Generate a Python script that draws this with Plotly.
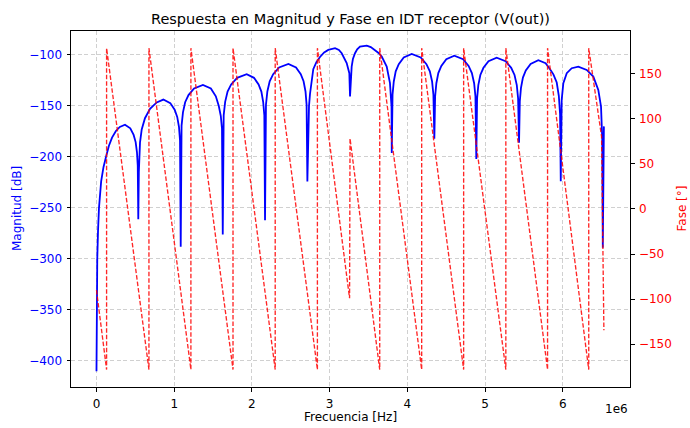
import plotly.graph_objects as go

# ---- data (frequency in MHz, scaled to Hz below) ----
freq_mhz = [
    0.000, 0.003, 0.010, 0.020, 0.032, 0.060, 0.090, 0.122, 0.160, 0.200, 0.250, 0.300, 0.367,
    0.435, 0.478, 0.504, 0.521, 0.531, 0.538,
    0.545, 0.551, 0.560, 0.582, 0.624, 0.689, 0.775, 0.860, 0.950, 1.006, 1.039, 1.062, 1.075, 1.084,
    1.095, 1.113, 1.141, 1.184, 1.256, 1.370, 1.472, 1.536, 1.574, 1.600, 1.615, 1.625,
    1.637, 1.656, 1.687, 1.733, 1.810, 1.933, 2.027, 2.086, 2.122, 2.145, 2.160, 2.169,
    2.181, 2.199, 2.229, 2.274, 2.350, 2.470, 2.568, 2.629, 2.665, 2.690, 2.704, 2.714,
    2.722, 2.735, 2.748, 2.770, 2.790, 2.830, 2.876, 2.930, 2.983, 3.070, 3.120, 3.156, 3.220, 3.254, 3.263,
    3.284, 3.300, 3.327, 3.355, 3.391, 3.478, 3.530, 3.585, 3.630, 3.671, 3.735, 3.777, 3.797, 3.800,
    3.810, 3.826, 3.851, 3.890, 3.954, 4.057, 4.173, 4.246, 4.290, 4.319, 4.336, 4.348,
    4.358, 4.374, 4.399, 4.438, 4.502, 4.605, 4.718, 4.789, 4.831, 4.860, 4.877, 4.888,
    4.898, 4.914, 4.940, 4.980, 5.045, 5.150, 5.265, 5.337, 5.380, 5.409, 5.426, 5.438,
    5.448, 5.463, 5.488, 5.525, 5.587, 5.686, 5.780, 5.837, 5.880, 5.923, 5.950, 5.966, 5.975,
    5.987, 6.008, 6.052, 6.116, 6.201, 6.309, 6.394, 6.458, 6.493, 6.509, 6.516, 6.530,
]
mag_db = [
    -410, -350, -300, -272, -250, -224, -210, -200, -189, -181, -174.5, -170.5, -168.4,
    -171.9, -178.4, -185.4, -195.4, -208.4, -261,
    -215, -195, -186, -173, -162, -152.7, -146.5, -143.7, -147.2, -153.7, -160.7, -170.7, -183.7, -288,
    -169.3, -156.3, -146.3, -139.3, -132.8, -129.3, -132.8, -140.5, -150, -160, -172, -276,
    -158.9, -145.9, -135.9, -128.9, -122.4, -118.9, -122.4, -128.9, -135.9, -145.9, -158.9, -262,
    -148.8, -135.8, -125.8, -118.8, -112.3, -108.8, -112.3, -118.8, -125.8, -135.8, -148.8, -224,
    -175, -150, -138, -122, -114, -107, -102, -97.5, -95, -93.4, -95, -98.3, -108, -117.9, -140.7,
    -111.4, -104, -98.3, -94.5, -91.9, -90.9, -92.3, -95.1, -98, -101.6, -111.4, -127.6, -150.5, -196,
    -139, -126, -116, -109, -102.5, -99, -102.5, -109, -116, -126, -139, -182,
    -140.7, -127.7, -117.7, -110.7, -104.2, -100.7, -104.2, -110.7, -117.7, -127.7, -140.7, -202,
    -142.6, -129.6, -119.6, -112.6, -106.1, -102.6, -106.1, -112.6, -119.6, -129.6, -142.6, -186,
    -145.2, -132.2, -122.2, -115.2, -108.7, -105.2, -108, -114, -119, -127, -140, -158, -223.7,
    -144, -127.6, -117.9, -113, -111.4, -114.7, -121.2, -134.2, -150.5, -183, -289, -170,
]

phase_freq_mhz = [
    0.000, 0.130, 0.130, 0.675, 0.675, 1.215, 1.215, 1.757, 1.757, 2.300, 2.300, 2.843,
    2.843, 3.257, 3.263, 3.645, 3.645, 4.185, 4.185, 4.725, 4.725, 5.268, 5.268, 5.805,
    5.805, 6.335, 6.335, 6.500, 6.530,
]
phase_deg = [
    -90, -178, 178, -178, 178, -178, 178, -178, 178, -178, 178, -178,
    178, -99, 78, -178, 178, -178, 178, -178, 178, -178, 178, -178,
    178, -178, 178, 80, -134.5,
]

x_tick_vals = [0, 1e6, 2e6, 3e6, 4e6, 5e6, 6e6]
x_tick_text = ["0", "1", "2", "3", "4", "5", "6"]
mag_tick_vals = [-400, -350, -300, -250, -200, -150, -100]
mag_tick_text = ["\u2212400", "\u2212350", "\u2212300", "\u2212250", "\u2212200", "\u2212150", "\u2212100"]
phase_tick_vals = [-150, -100, -50, 0, 50, 100, 150]
phase_tick_text = ["\u2212150", "\u2212100", "\u221250", "0", "50", "100", "150"]

f_hz = [f * 1e6 for f in freq_mhz]
phase_f_hz = [f * 1e6 for f in phase_freq_mhz]

# ---- layout geometry (pixels) ----
W, H = 690, 428
L, R, T, B = 71, 630, 31, 387
FONT = "DejaVu Sans"

fig = go.Figure()
fig.add_trace(go.Scatter(
    x=f_hz, y=mag_db, mode="lines", yaxis="y",
    line=dict(color="#0000ff", width=1.8), showlegend=False, hoverinfo="skip",
))
fig.add_trace(go.Scatter(
    x=phase_f_hz, y=phase_deg, mode="lines", yaxis="y2",
    line=dict(color="rgba(255,0,0,0.85)", width=1.35, dash="4.5px,2px"),
    showlegend=False, hoverinfo="skip",
))

def px_x(p):
    return (p - L) / (R - L)

def px_y(p):
    return (B - p) / (B - T)

grid = dict(showgrid=True, gridcolor="#d0d0d0", gridwidth=0.8, griddash="4px,2.5px")

fig.update_layout(
    width=W, height=H,
    margin=dict(l=L, r=W - R, t=T, b=H - B, pad=0),
    paper_bgcolor="white", plot_bgcolor="white",
    font=dict(family=FONT, size=12, color="black"),
    title=dict(
        text="Respuesta en Magnitud y Fase en IDT receptor (V(out))",
        font=dict(family=FONT, size=14.5, color="black"),
        x=px_x((L + R) / 2), xref="paper", xanchor="center",
        y=1 - 18.5 / H, yref="container", yanchor="middle",
    ),
    xaxis=dict(
        range=[-0.328e6, 6.866e6], tickmode="array",
        tickvals=x_tick_vals, ticktext=x_tick_text,
        ticks="outside", ticklen=3.5, tickwidth=1, tickcolor="black",
        ticklabelstandoff=2,
        showline=True, linecolor="black", linewidth=1, mirror=True,
        zeroline=False, tickfont=dict(family=FONT, size=12, color="black"),
        **grid,
    ),
    yaxis=dict(
        range=[-425.5, -76.5], tickmode="array",
        tickvals=mag_tick_vals, ticktext=mag_tick_text,
        ticks="outside", ticklen=3.5, tickwidth=1, tickcolor="black",
        ticklabelstandoff=2,
        showline=True, linecolor="black", linewidth=1,
        zeroline=False, tickfont=dict(family=FONT, size=12, color="#0000ff"),
        **grid,
    ),
    yaxis2=dict(
        range=[-197.3, 197.0], tickmode="array",
        tickvals=phase_tick_vals, ticktext=phase_tick_text,
        overlaying="y", side="right",
        ticks="outside", ticklen=3.5, tickwidth=1, tickcolor="black",
        ticklabelstandoff=2,
        showline=True, linecolor="black", linewidth=1,
        showgrid=False, zeroline=False,
        tickfont=dict(family=FONT, size=12, color="#ff0000"),
    ),
    annotations=[
        dict(text="Frecuencia [Hz]", xref="paper", yref="paper",
             x=px_x((L + R) / 2), y=px_y(417), xanchor="center", yanchor="middle",
             showarrow=False, font=dict(family=FONT, size=12, color="black")),
        dict(text="Magnitud [dB]", xref="paper", yref="paper",
             x=px_x(17), y=0.5, xanchor="center", yanchor="middle", textangle=-90,
             showarrow=False, font=dict(family=FONT, size=12, color="#0000ff")),
        dict(text="Fase [°]", xref="paper", yref="paper",
             x=px_x(681.5), y=0.5, xanchor="center", yanchor="middle", textangle=-90,
             showarrow=False, font=dict(family=FONT, size=12, color="#ff0000")),
        dict(text="1e6", xref="paper", yref="paper",
             x=1.0, y=px_y(409), xanchor="right", yanchor="middle",
             showarrow=False, font=dict(family=FONT, size=12, color="black")),
    ],
)

fig.write_html(
    "out.html",
    config={"displayModeBar": False},
    post_script="document.body.style.margin='0px';document.body.style.padding='0px';",
)
